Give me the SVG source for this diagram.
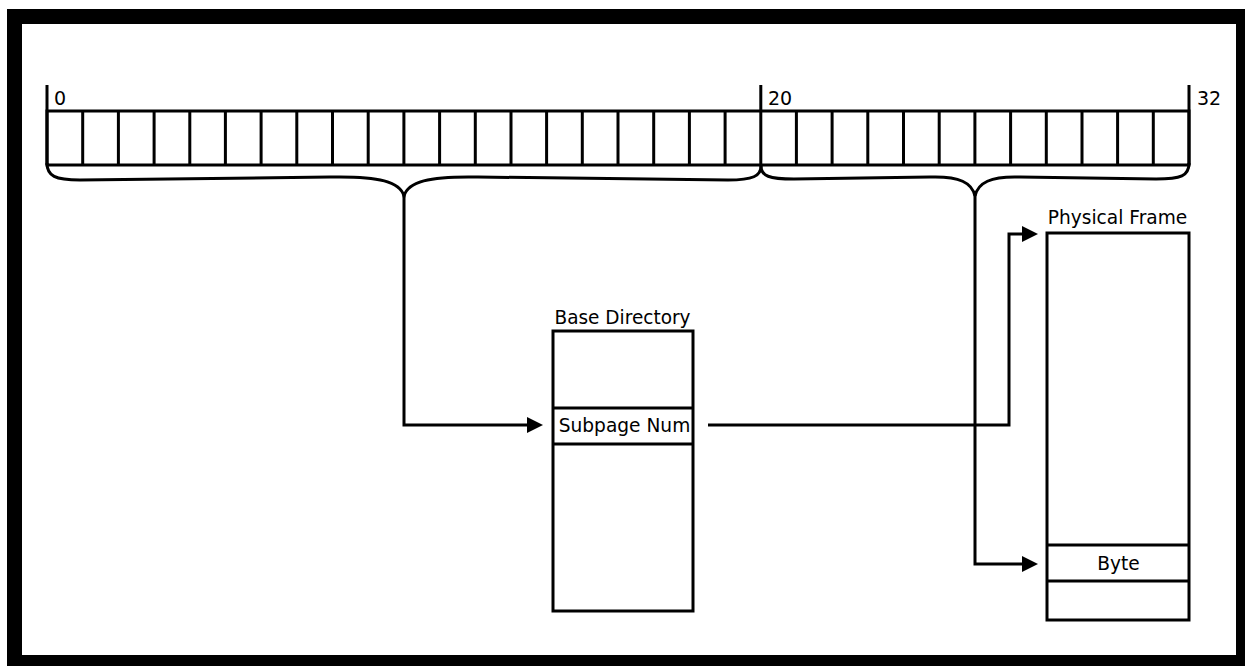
<svg xmlns="http://www.w3.org/2000/svg" width="1245" height="666" viewBox="0 0 1245 666">
<style>
.ln{fill:none;stroke:#000;stroke-width:3}
.bx{fill:#fff;stroke:#000;stroke-width:3}
.t{font-family:"DejaVu Sans",Verdana,sans-serif;font-size:18.6px;fill:#000}
.n{font-size:19px}
.c{text-anchor:middle}
</style>
<defs>
<marker id="ah" markerUnits="userSpaceOnUse" markerWidth="16" markerHeight="16" refX="0" refY="7.5" orient="auto" viewBox="0 0 15 15">
<path d="M0,0 L15,7.5 L0,15 z" fill="#000"/>
</marker>
</defs>
<rect x="0" y="0" width="1245" height="666" fill="#fff"/>
<rect x="14.5" y="16.5" width="1229" height="646" fill="none" stroke="#000" stroke-width="15"/>

<g id="register">
<rect class="ln" x="47" y="111" width="1142" height="54"/>
<path class="ln" d="M82.7,111V165M118.4,111V165M154.1,111V165M189.8,111V165M225.4,111V165M261.1,111V165M296.8,111V165M332.5,111V165M368.2,111V165M403.9,111V165M439.6,111V165M475.3,111V165M511,111V165M546.6,111V165M582.3,111V165M618,111V165M653.7,111V165M689.4,111V165M725.1,111V165M760.8,111V165M796.4,111V165M832.1,111V165M867.8,111V165M903.5,111V165M939.2,111V165M974.9,111V165M1010.6,111V165M1046.3,111V165M1082,111V165M1117.6,111V165M1153.3,111V165"/>
<path class="ln" d="M47,85V165M760.8,85V111M1189,85V165"/>
<text class="t n" x="54" y="104.5">0</text>
<text class="t n" x="768" y="104.5">20</text>
<text class="t n" x="1197" y="104.5">32</text>
</g>

<g id="braces">
<path class="ln" d="M47,163 C47,176 55,180 80,180 L330,177 C380,176 400,182 404,196 C408,182 428,176 478,177 L728,180 C753,180 761,176 761,166"/>
<path class="ln" d="M761,166 C761,176 769,179 794,179 L930,177 C960,176 972,183 975,196 C978,183 990,176 1020,177 L1156,179 C1181,179 1189,176 1189,163"/>
</g>

<g id="base-directory">
<text class="t c" x="622.5" y="323.5" textLength="136" lengthAdjust="spacingAndGlyphs">Base Directory</text>
<rect class="bx" x="553" y="331" width="140" height="280"/>
<path class="ln" d="M553,408H693M553,444H693"/>
<text class="t c" x="624.5" y="432">Subpage Num</text>
</g>

<g id="physical-frame">
<text class="t c" x="1117.5" y="224">Physical Frame</text>
<rect class="bx" x="1047" y="233" width="142" height="387"/>
<path class="ln" d="M1047,545H1189M1047,581H1189"/>
<text class="t c" x="1118.5" y="569.5">Byte</text>
</g>

<g id="connectors">
<polyline class="ln" points="404,194 404,425 527,425" marker-end="url(#ah)"/>
<polyline class="ln" points="708,425 1009,425 1009,234 1022,234" marker-end="url(#ah)"/>
<polyline class="ln" points="975,194 975,564 1022,564" marker-end="url(#ah)"/>
</g>
</svg>
